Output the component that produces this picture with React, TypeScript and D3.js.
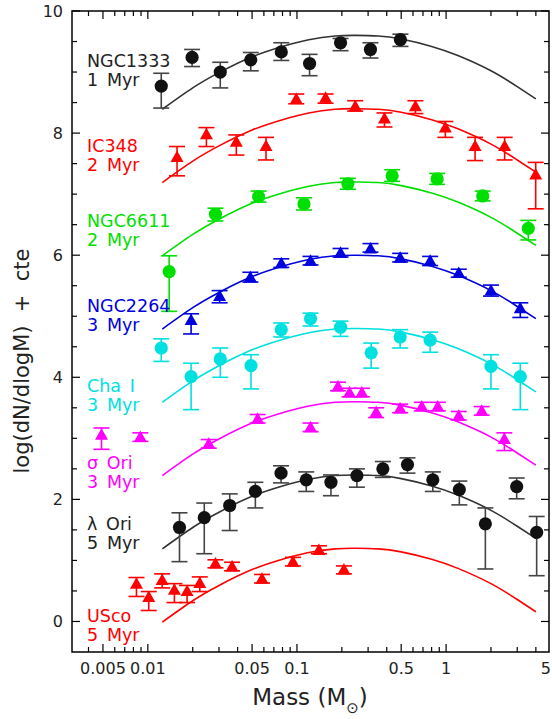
import React from "react";
import * as d3 from "d3";

// ---------------- data ----------------
const X_TICK_VALUES = [0.005, 0.01, 0.05, 0.1, 0.5, 1, 5];
const X_TICK_TEXT = ["0.005", "0.01", "0.05", "0.1", "0.5", "1", "5"];
const Y_TICK_VALUES = [0, 2, 4, 6, 8, 10];

const CLUSTERS = ["NGC1333", "IC348", "NGC6611", "NGC2264", "Cha I", "σ Ori", "λ Ori", "USco"];
const AGES = ["1 Myr", "2 Myr", "2 Myr", "3 Myr", "3 Myr", "3 Myr", "5 Myr", "5 Myr"];

// shared log-normal fit (relative to its peak)
const FIT_MASS = [0.0125, 0.02, 0.03, 0.05, 0.08, 0.12, 0.18, 0.25, 0.35, 0.5, 0.8, 1.2, 2, 3, 4];
const FIT_SHAPE = [-1.21, -0.86, -0.61, -0.35, -0.18, -0.07, -0.01, 0, -0.01, -0.06, -0.18, -0.33, -0.58, -0.84, -1.04];
const FIT_PEAK = [9.6, 8.4, 7.2, 6.0, 4.8, 3.6, 2.4, 1.2];

const NGC1333_MASS = [0.0123, 0.0198, 0.0306, 0.049, 0.0785, 0.1215, 0.196, 0.311, 0.494];
const NGC1333_VAL = [8.77, 9.24, 9.0, 9.2, 9.33, 9.14, 9.48, 9.37, 9.53];
const NGC1333_LO = [8.41, 9.09, 8.74, 9.02, 9.19, 8.94, 9.35, 9.23, 9.42];
const NGC1333_HI = [8.98, 9.37, 9.16, 9.32, 9.48, 9.29, 9.55, 9.48, 9.62];

const IC348_MASS = [0.0157, 0.0247, 0.0392, 0.062, 0.0989, 0.1555, 0.2458, 0.3862, 0.6228, 0.9886, 1.565, 2.47, 3.99];
const IC348_VAL = [7.61, 7.98, 7.86, 7.79, 8.56, 8.58, 8.44, 8.24, 8.44, 8.09, 7.79, 7.79, 7.32];
const IC348_LO = [7.3, 7.78, 7.64, 7.56, 8.48, 8.49, 8.36, 8.1, 8.32, 7.93, 7.55, 7.56, 6.76];
const IC348_HI = [7.78, 8.09, 7.97, 7.93, 8.64, 8.64, 8.53, 8.33, 8.53, 8.19, 7.93, 7.93, 7.52];

const NGC6611_MASS = [0.0139, 0.0284, 0.0553, 0.1114, 0.2196, 0.4347, 0.871, 1.761, 3.56];
const NGC6611_VAL = [5.73, 6.67, 6.96, 6.84, 7.17, 7.3, 7.25, 6.97, 6.44];
const NGC6611_LO = [5.08, 6.56, 6.87, 6.74, 7.08, 7.21, 7.16, 6.89, 6.25];
const NGC6611_HI = [5.99, 6.77, 7.05, 6.94, 7.26, 7.4, 7.34, 7.05, 6.57];

const NGC2264_MASS = [0.0195, 0.0303, 0.0487, 0.0785, 0.1233, 0.196, 0.3112, 0.492, 0.7817, 1.216, 2.0, 3.146];
const NGC2264_VAL = [4.94, 5.33, 5.64, 5.87, 5.91, 6.04, 6.11, 5.96, 5.91, 5.71, 5.42, 5.13];
const NGC2264_LO = [4.71, 5.22, 5.56, 5.8, 5.84, 5.97, 6.05, 5.89, 5.83, 5.64, 5.33, 4.98];
const NGC2264_HI = [5.04, 5.42, 5.72, 5.94, 5.98, 6.11, 6.19, 6.03, 5.98, 5.77, 5.51, 5.22];

const CHAI_MASS = [0.0123, 0.0195, 0.0306, 0.0492, 0.0785, 0.1233, 0.196, 0.3146, 0.492, 0.7817, 2.0, 3.146];
const CHAI_VAL = [4.48, 4.01, 4.3, 4.19, 4.78, 4.96, 4.82, 4.4, 4.66, 4.61, 4.18, 4.01];
const CHAI_LO = [4.26, 3.47, 4.0, 3.81, 4.66, 4.84, 4.67, 4.15, 4.48, 4.41, 3.81, 3.47];
const CHAI_HI = [4.63, 4.23, 4.48, 4.37, 4.89, 5.05, 4.92, 4.56, 4.78, 4.74, 4.37, 4.23];

const SIGORI_MASS = [0.00489, 0.00891, 0.0256, 0.0545, 0.1233, 0.1883, 0.2251, 0.2725, 0.3397, 0.492, 0.6873, 0.8795, 1.216, 1.734, 2.46];
const SIGORI_VAL = [3.06, 3.02, 2.91, 3.32, 3.18, 3.85, 3.75, 3.75, 3.43, 3.49, 3.52, 3.52, 3.37, 3.45, 2.99];
const SIGORI_LO = [2.82, 2.95, 2.84, 3.25, 3.11, 3.78, 3.68, 3.68, 3.34, 3.42, 3.45, 3.45, 3.3, 3.38, 2.8];
const SIGORI_HI = [3.17, 3.09, 2.98, 3.39, 3.25, 3.92, 3.82, 3.82, 3.5, 3.56, 3.59, 3.59, 3.44, 3.52, 3.09];

const LAMORI_MASS = [0.0163, 0.0239, 0.0354, 0.0526, 0.0782, 0.1154, 0.169, 0.2523, 0.3767, 0.551, 0.8147, 1.227, 1.834, 2.975, 4.05];
const LAMORI_VAL = [1.54, 1.7, 1.9, 2.13, 2.43, 2.32, 2.28, 2.39, 2.5, 2.57, 2.32, 2.16, 1.6, 2.21, 1.46];
const LAMORI_LO = [0.98, 1.11, 1.49, 1.86, 2.27, 2.13, 2.06, 2.2, 2.36, 2.43, 2.13, 1.91, 0.86, 2.01, 0.75];
const LAMORI_HI = [1.78, 1.94, 2.09, 2.28, 2.55, 2.45, 2.4, 2.5, 2.62, 2.68, 2.45, 2.3, 1.86, 2.35, 1.72];

const USCO_MASS = [0.00839, 0.01014, 0.01247, 0.01507, 0.01833, 0.0223, 0.0284, 0.0367, 0.0583, 0.094, 0.1404, 0.2065];
const USCO_VAL = [0.62, 0.4, 0.68, 0.52, 0.5, 0.63, 0.95, 0.9, 0.7, 0.98, 1.17, 0.85];
const USCO_LO = [0.41, 0.18, 0.55, 0.31, 0.31, 0.49, 0.88, 0.83, 0.63, 0.91, 1.11, 0.78];
const USCO_HI = [0.72, 0.49, 0.78, 0.62, 0.59, 0.73, 1.01, 0.97, 0.77, 1.05, 1.24, 0.91];

// ---------------- styling / layout ----------------
const W = 552;
const H = 719;
const PLOT = { left: 72, right: 549, top: 11, bottom: 652 };
const X_DOMAIN: [number, number] = [0.0031, 4.9];
const Y_DOMAIN: [number, number] = [-0.5, 10];
const FONT = "DejaVu Sans";
const TEXT_COLOR = "#222";

const COLORS = ["#111111", "#ff0000", "#00e000", "#0000dd", "#00e0e0", "#ff00ff", "#111111", "#ff0000"];
const ERR_COLORS = ["#444444", "#ff0000", "#00e000", "#0000dd", "#00e0e0", "#ff00ff", "#444444", "#ff0000"];
const LINE_COLORS = ["#333333", "#ff0000", "#00e000", "#0000dd", "#00e0e0", "#ff00ff", "#333333", "#ff0000"];
const MARKERS = ["circle", "triangle", "circle", "triangle", "circle", "triangle", "circle", "triangle"];
const LABEL_BASELINE = [66.7, 151.5, 226.7, 311.5, 391.7, 469, 530, 621.7];
const LABEL_X = 87;
const LABEL_LINE = 19;
const LABEL_SIZE = 17.5;

const SERIES = [
  { mass: NGC1333_MASS, val: NGC1333_VAL, lo: NGC1333_LO, hi: NGC1333_HI },
  { mass: IC348_MASS, val: IC348_VAL, lo: IC348_LO, hi: IC348_HI },
  { mass: NGC6611_MASS, val: NGC6611_VAL, lo: NGC6611_LO, hi: NGC6611_HI },
  { mass: NGC2264_MASS, val: NGC2264_VAL, lo: NGC2264_LO, hi: NGC2264_HI },
  { mass: CHAI_MASS, val: CHAI_VAL, lo: CHAI_LO, hi: CHAI_HI },
  { mass: SIGORI_MASS, val: SIGORI_VAL, lo: SIGORI_LO, hi: SIGORI_HI },
  { mass: LAMORI_MASS, val: LAMORI_VAL, lo: LAMORI_LO, hi: LAMORI_HI },
  { mass: USCO_MASS, val: USCO_VAL, lo: USCO_LO, hi: USCO_HI },
];

export default function App() {
  const x = d3.scaleLog().domain(X_DOMAIN).range([PLOT.left, PLOT.right]);
  const y = d3.scaleLinear().domain(Y_DOMAIN).range([PLOT.bottom, PLOT.top]);

  const line = d3
    .line<[number, number]>()
    .x((d) => x(d[0]))
    .y((d) => y(d[1]))
    .curve(d3.curveNatural);

  const xMinor = x.ticks().filter((t) => t >= X_DOMAIN[0] && t <= X_DOMAIN[1]);
  const isMajorX = (t: number) => X_TICK_VALUES.some((v) => Math.abs(Math.log10(v / t)) < 1e-6);
  const yTicks = y.ticks(20).filter((t) => t >= 0);
  const isMajorY = (t: number) => Y_TICK_VALUES.includes(t);

  const capW = 8;

  return (
    <svg
      width={W}
      height={H}
      style={{ position: "absolute", left: 0, top: 0, background: "#fff" }}
      fontFamily={FONT}
    >
      <rect x={0} y={0} width={W} height={H} fill="#fff" />

      {/* fit curves */}
      {FIT_PEAK.map((p, i) => (
        <path
          key={"fit" + i}
          d={line(FIT_MASS.map((m, j) => [m, p + FIT_SHAPE[j]] as [number, number])) || ""}
          fill="none"
          stroke={LINE_COLORS[i]}
          strokeWidth={1.6}
        />
      ))}

      {/* error bars and markers */}
      {SERIES.map((s, i) => (
        <g key={"s" + i}>
          {s.mass.map((m, j) => {
            const cx = x(m);
            const yl = y(s.lo[j]);
            const yh = y(s.hi[j]);
            return (
              <g key={j} stroke={ERR_COLORS[i]} strokeWidth={1.6}>
                <line x1={cx} x2={cx} y1={yl} y2={yh} />
                <line x1={cx - capW} x2={cx + capW} y1={yl} y2={yl} />
                <line x1={cx - capW} x2={cx + capW} y1={yh} y2={yh} />
              </g>
            );
          })}
          {s.mass.map((m, j) => {
            const cx = x(m);
            const cy = y(s.val[j]);
            return MARKERS[i] === "circle" ? (
              <circle key={"m" + j} cx={cx} cy={cy} r={6.6} fill={COLORS[i]} />
            ) : (
              <path
                key={"m" + j}
                d={`M${cx},${cy - 6.5}L${cx + 6.5},${cy + 5}L${cx - 6.5},${cy + 5}Z`}
                fill={COLORS[i]}
              />
            );
          })}
        </g>
      ))}

      {/* cluster labels */}
      {CLUSTERS.map((c, i) => (
        <g key={"l" + i} fill={i === 0 || i === 6 ? TEXT_COLOR : COLORS[i]} fontSize={LABEL_SIZE}>
          <text x={LABEL_X} y={LABEL_BASELINE[i]}>
            {c.replace(" ", "\u2002")}
          </text>
          <text x={LABEL_X} y={LABEL_BASELINE[i] + LABEL_LINE}>
            {AGES[i].replace(" ", "\u2002")}
          </text>
        </g>
      ))}

      {/* frame */}
      <rect
        x={PLOT.left}
        y={PLOT.top}
        width={PLOT.right - PLOT.left}
        height={PLOT.bottom - PLOT.top}
        fill="none"
        stroke="#000"
        strokeWidth={1.5}
      />

      {/* x ticks (bottom and top) */}
      {xMinor.map((t, i) => {
        const len = isMajorX(t) ? 8 : 5;
        const px = x(t);
        return (
          <g key={"xt" + i} stroke="#000" strokeWidth={1.2}>
            <line x1={px} x2={px} y1={PLOT.bottom} y2={PLOT.bottom - len} />
            <line x1={px} x2={px} y1={PLOT.top} y2={PLOT.top + len} />
          </g>
        );
      })}
      {X_TICK_VALUES.map((t, i) => {
        const last = i === X_TICK_VALUES.length - 1;
        return (
          <text
            key={"xl" + i}
            x={last ? W - 1 : x(t)}
            y={674}
            textAnchor={last ? "end" : "middle"}
            fontSize={16}
            fill={TEXT_COLOR}
          >
            {X_TICK_TEXT[i]}
          </text>
        );
      })}

      {/* y ticks (left and right) */}
      {yTicks.map((t, i) => {
        const len = isMajorY(t) ? 8 : 5;
        const py = y(t);
        return (
          <g key={"yt" + i} stroke="#000" strokeWidth={1.2}>
            <line x1={PLOT.left} x2={PLOT.left + len} y1={py} y2={py} />
            <line x1={PLOT.right} x2={PLOT.right - len} y1={py} y2={py} />
          </g>
        );
      })}
      {Y_TICK_VALUES.map((t, i) => (
        <text key={"yl" + i} x={63} y={y(t)} dy="0.36em" textAnchor="end" fontSize={16} fill={TEXT_COLOR}>
          {String(t)}
        </text>
      ))}

      {/* axis titles */}
      <text
        transform={`translate(29,361) rotate(-90)`}
        textAnchor="middle"
        fontSize={21}
        fill={TEXT_COLOR}
      >
        {"log(dN/dlogM)\u00a0\u00a0+\u00a0\u00a0cte"}
      </text>
      <text x={310} y={705} textAnchor="middle" fontSize={23} fill={TEXT_COLOR}>
        {"Mass (M"}
        <tspan fontSize={15} dy={8}>
          {"\u2299"}
        </tspan>
        <tspan dy={-8}>{")"}</tspan>
      </text>
    </svg>
  );
}
